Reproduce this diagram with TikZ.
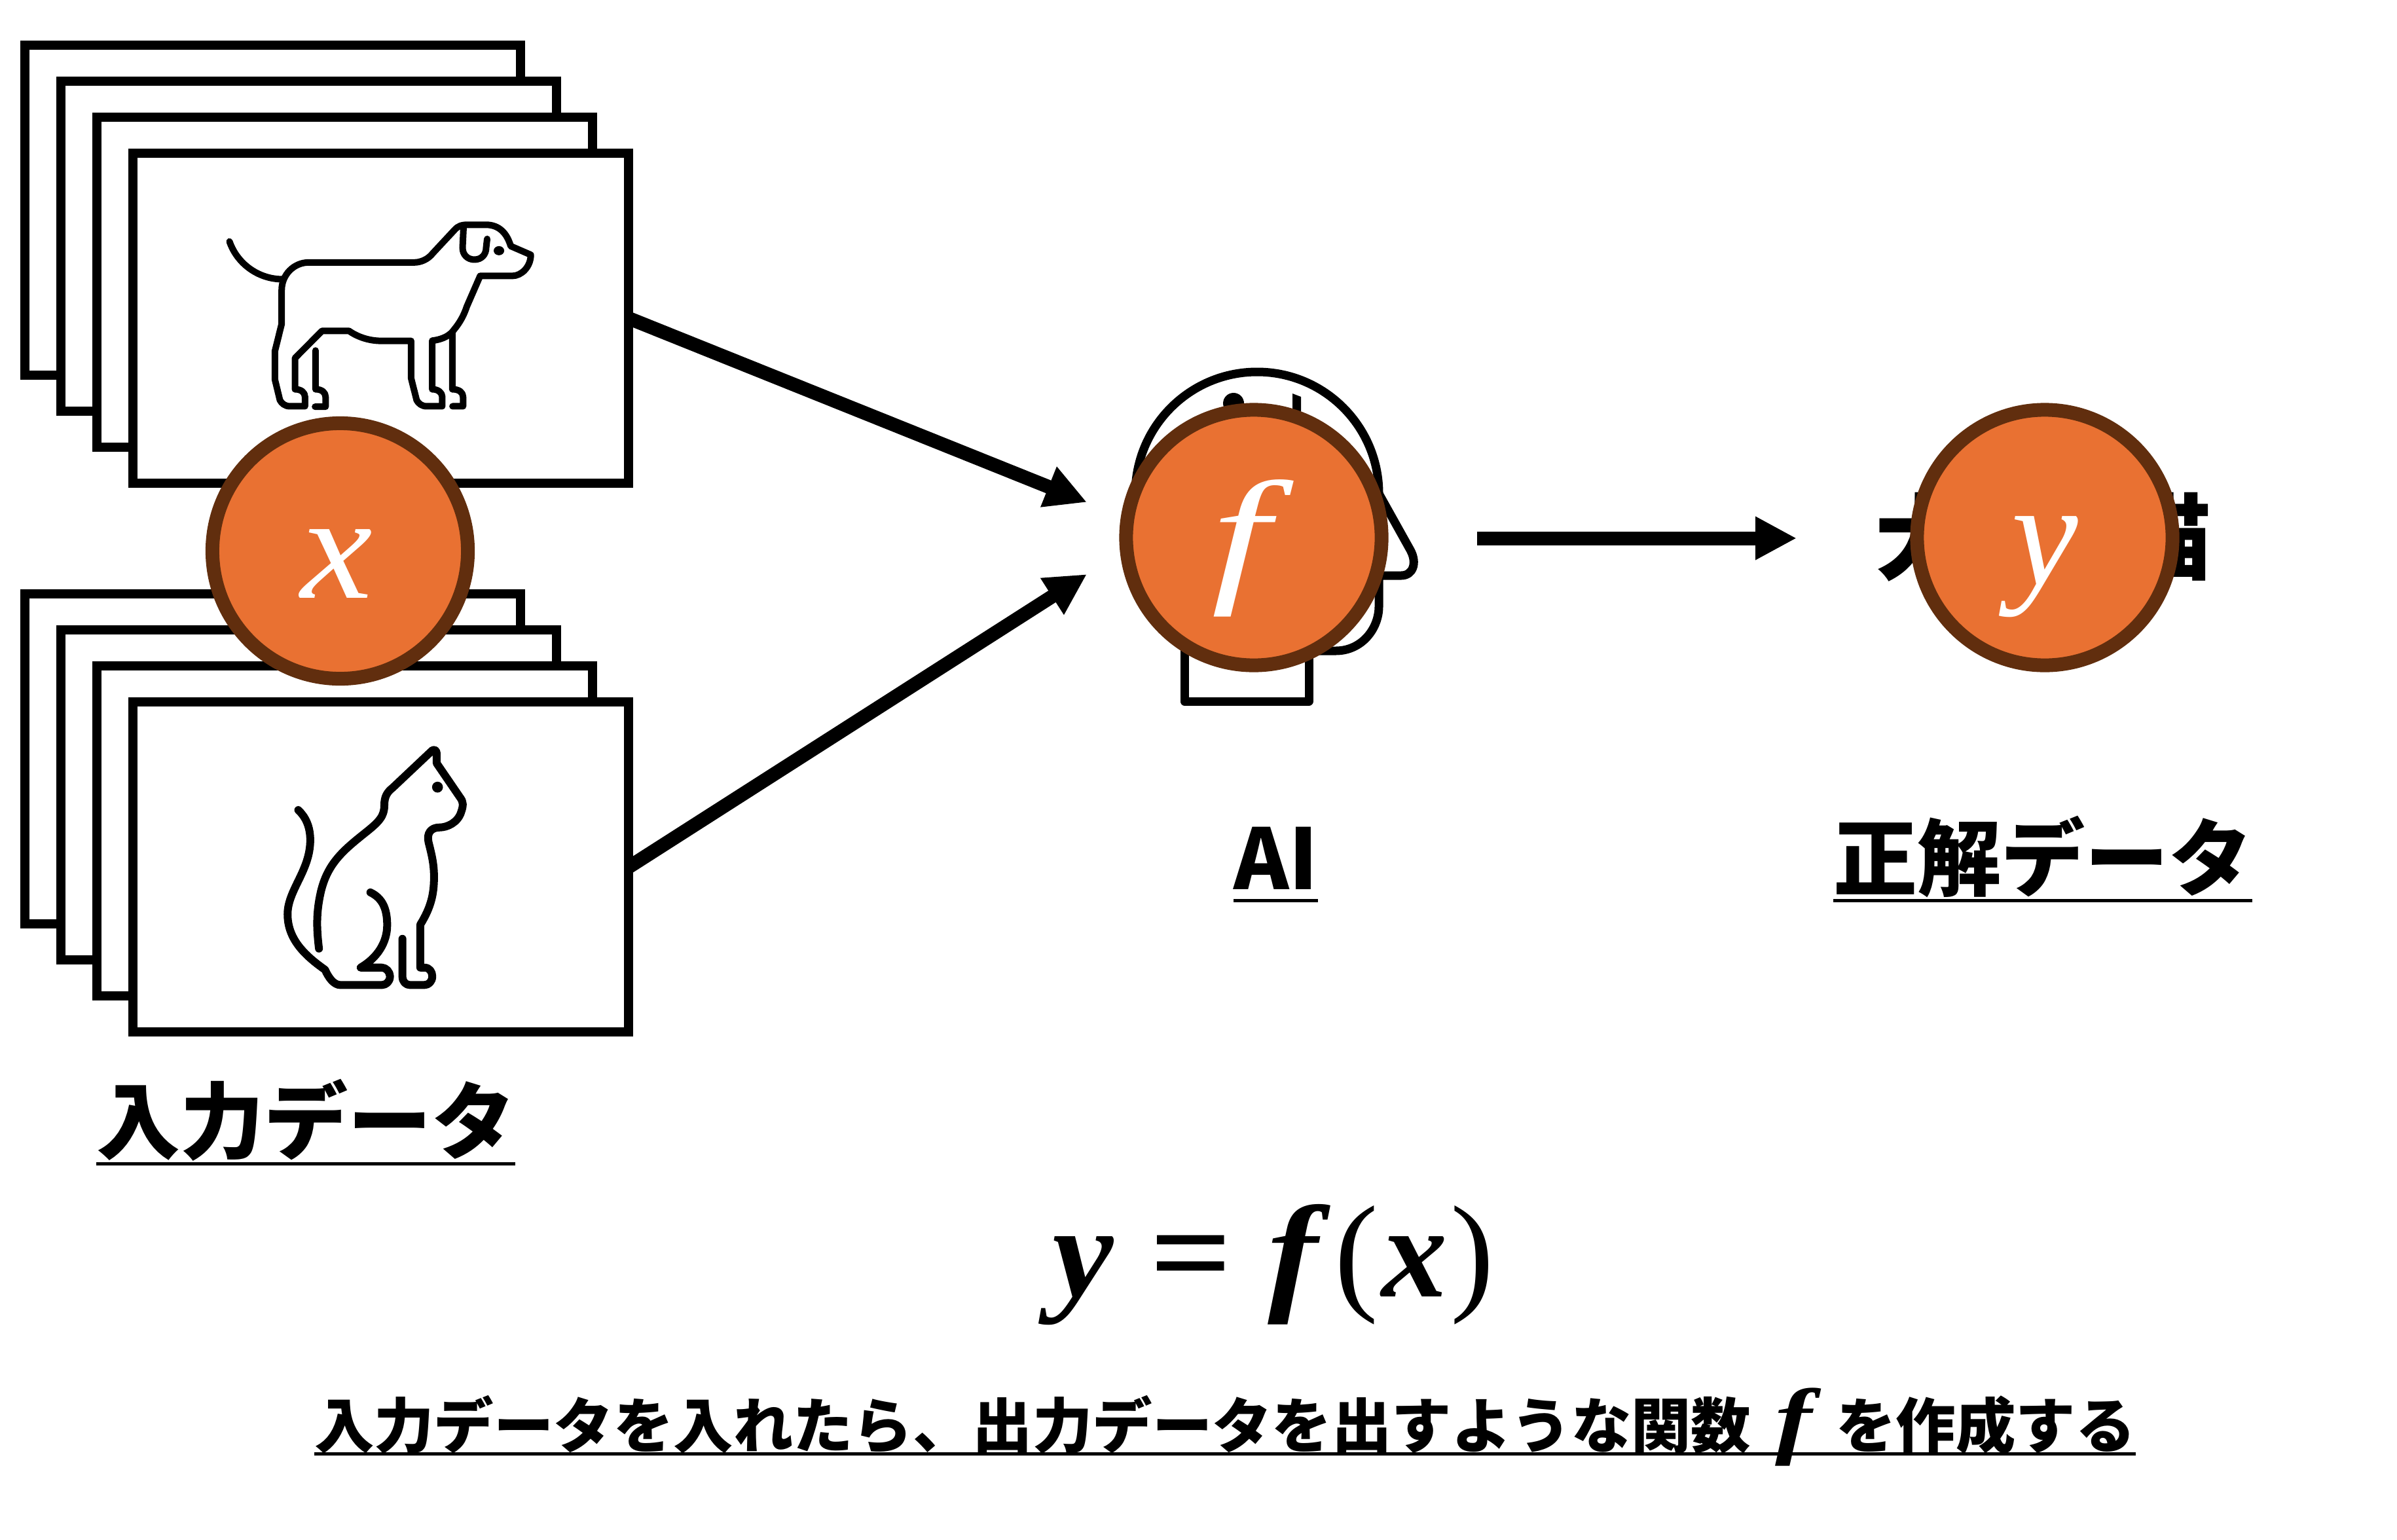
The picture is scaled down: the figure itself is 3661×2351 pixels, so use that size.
\documentclass[tikz,border=0pt]{standalone}
\usepackage{fontspec}
\usetikzlibrary{arrows.meta}
\setmainfont{Liberation Serif}
\newfontfamily\jafont{Noto Sans CJK JP}
\definecolor{nodefill}{HTML}{E97132}
\definecolor{nodeline}{HTML}{612E0E}
\newcommand{\fs}[1]{\fontsize{#1}{#1}\selectfont}
\newcommand{\bi}[1]{{\bfseries\itshape #1}}
\newcommand{\low}[1]{\raisebox{-0.72cm}[0pt][0pt]{#1}}
\tikzset{
  card/.style={draw, fill=white, line width=0.14cm, minimum width=7.57cm, minimum height=5.04cm, inner sep=0pt, outer sep=0pt, anchor=north west},
  var/.style={circle, draw=nodeline, fill=nodefill, line width=0.21cm, minimum size=3.9cm, inner sep=0pt, outer sep=0pt, text=white, font=\fs{65}\itshape},
  flow/.style={line width=0.21cm, -{Triangle[length=0.63cm, width=0.62cm]}},
  icon/.style={line width=0.1cm, line cap=round, line join=round},
  head/.style={line width=0.13cm, line join=round},
  lbl/.style={anchor=south west, inner sep=0pt, outer sep=0pt, font=\jafont\fs{36.4}\bfseries, text depth=0.17cm},
  uline/.style={line width=0.05cm}
}
\begin{document}
\begin{tikzpicture}[x=0.01cm, y=-0.01cm]
  \useasboundingbox (0,0) rectangle (3661,2351);
  % input cards
  \node[card] (dog1) at (38,69) {};
  \node[card] (dog2) at (93,124) {};
  \node[card] (dog3) at (148,179) {};
  \node[card] (dog4) at (203,234) {};
  \node[card] (cat1) at (38,907) {};
  \node[card] (cat2) at (93,962) {};
  \node[card] (cat3) at (148,1017) {};
  \node[card] (cat4) at (203,1072) {};
  % dog
  \begin{scope}[shift={(280,290)}, x=0.003827cm, y=-0.00333cm, icon]
    \draw (184,237) .. controls (215,340) and (300,410) .. (395,410);
    \draw (920,333) -- (500,333) .. controls (440,333) and (392,390) .. (392,460) -- (392,615) -- (365,740) -- (365,870) -- (385,965)
      .. controls (392,980) and (405,993) .. (425,993) -- (485,993) -- (485,950) .. controls (485,930) and (470,915) .. (445,915)
      -- (445,772) -- (553,647) -- (660,647) .. controls (695,675) and (740,693) .. (790,693) -- (908,693) -- (908,865) -- (930,965)
      .. controls (937,980) and (950,993) .. (970,993) -- (1032,993) -- (1032,950) .. controls (1032,930) and (1015,915) .. (992,915)
      -- (992,692) .. controls (1040,685) and (1065,665) .. (1080,640) .. controls (1105,605) and (1120,570) .. (1130,535)
      -- (1183,395) -- (1310,395) .. controls (1350,395) and (1385,350) .. (1385,298) -- (1305,258)
      .. controls (1290,200) and (1260,160) .. (1205,160) -- (1135,160) .. controls (1110,160) and (1095,165) .. (1080,185)
      -- (995,290) .. controls (975,320) and (945,333) .. (920,333);
    \draw (1072,655) -- (1072,915) .. controls (1100,915) and (1115,930) .. (1115,950) -- (1115,993) -- (1073,993);
    \draw (527,737) -- (527,915) .. controls (552,915) and (567,930) .. (567,950) -- (567,995) -- (525,995);
    \draw (1117,170) -- (1113,265) .. controls (1113,300) and (1135,320) .. (1160,320) .. controls (1190,320) and (1207,295) .. (1207,265) -- (1211,225);
    \fill (1258,279) circle (21);
  \end{scope}
  % cat
  \begin{scope}[shift={(380,1100)}, x=0.00333cm, y=-0.00333cm, icon, line width=0.12cm]
    \draw (322,1048) .. controls (310,950) and (310,880) .. (330,790) .. controls (360,660) and (430,600) .. (530,520)
      .. controls (600,465) and (622,440) .. (622,390) .. controls (622,350) and (635,330) .. (660,310) -- (835,145)
      .. controls (845,130) and (862,135) .. (862,150) -- (862,197) -- (970,355) .. controls (985,375) and (985,390) .. (975,420)
      .. controls (960,470) and (910,492) .. (875,492) .. controls (835,492) and (815,520) .. (825,560)
      .. controls (840,620) and (850,660) .. (850,720) .. controls (850,800) and (835,860) .. (787,938) -- (787,1135) -- (805,1135)
      .. controls (830,1135) and (842,1155) .. (842,1175) .. controls (842,1200) and (825,1215) .. (805,1215) -- (740,1215)
      .. controls (720,1215) and (705,1200) .. (705,1175) -- (705,1003);
    \draw (558,790) .. controls (610,815) and (635,860) .. (635,940) .. controls (635,1020) and (590,1090) .. (513,1135) -- (610,1135)
      .. controls (630,1135) and (648,1155) .. (648,1175) .. controls (648,1200) and (630,1215) .. (610,1215) -- (420,1215)
      .. controls (390,1215) and (365,1180) .. (350,1145)
      .. controls (250,1075) and (178,1000) .. (178,890) .. controls (178,780) and (282,690) .. (282,550) .. controls (282,490) and (262,445) .. (227,412);
    \fill (866,307) circle (25);
  \end{scope}
  % head
  \draw[head] (1809,960) -- (1809,1071) -- (1999,1071) -- (1999,960);
  \draw[head] (1880,994) -- (2040,994) .. controls (2080,994) and (2106,960) .. (2106,926) -- (2106,879) -- (2140,879)
    .. controls (2158,879) and (2165,860) .. (2154,840) -- (2106,754) arc[start angle=0, end angle=-180, radius=186] -- (1734,800);
  \fill (1884,616) circle (16);
  \fill (1974,601) -- (1987,606) -- (1987,660) -- (1974,660) -- cycle;
  % hidden output text
  \node[inner sep=0pt, anchor=base, font=\jafont\fs{41}\bfseries] (animal) at (3121,875) {犬 or 猫};
  % arrow ends
  \coordinate (in) at (1660,767);
  \coordinate (in2) at (1660,877);
  \coordinate (outa) at (2256,822);
  \coordinate (outb) at (2744,822);
  \draw[flow] (dog4.east) -- (in);
  \draw[flow] (cat4.east) -- (in2);
  \draw[flow] (outa) -- (outb);
  % variables
  \node[var] (x) at (519.5,841.5) {\low{\hspace*{-0.1cm}\scalebox{1.08}[1]{x}}};
  \node[var] (f) at (1915,821) {\low{\hspace*{-0.4cm}\scalebox{1.4}[1]{f}}};
  \node[var] (y) at (3123,821) {\low{y}};
  % labels
  \node[lbl] (inlabel) at (147,1777) {入力データ};
  \draw[uline] (inlabel.south west) -- (inlabel.south east);
  \node[lbl] (ailabel) at (1884,1375) {AI};
  \draw[uline] (ailabel.south west) -- (ailabel.south east);
  \node[lbl] (outlabel) at (2800,1375) {正解データ};
  \draw[uline] (outlabel.south west) -- (outlabel.south east);
  % formula
  \node[inner sep=0pt, anchor=base, font=\fs{57}] (eq) at (1945,1980) {\scalebox{1.05}[1]{\bi{y}}\hspace{0.55cm}\scalebox{1.1}[1]{\textbf{=}}\hspace{0.55cm}\scalebox{1.15}[1]{\bi{f}}\hspace{0.25cm}(\hspace{0.05cm}\bi{x}\hspace{0.05cm})};
  \node[lbl, font=\jafont\fs{26}\bfseries, text depth=0.085cm] (goal) at (480,2220) {入力データを入れたら、出力データを出すような関数\makebox[1.3cm]{\rmfamily\fs{37}\scalebox{1.3}[1]{\bi{f}}}を作成する};
  \draw[uline] (goal.south west) -- (goal.south east);
\end{tikzpicture}
\end{document}
